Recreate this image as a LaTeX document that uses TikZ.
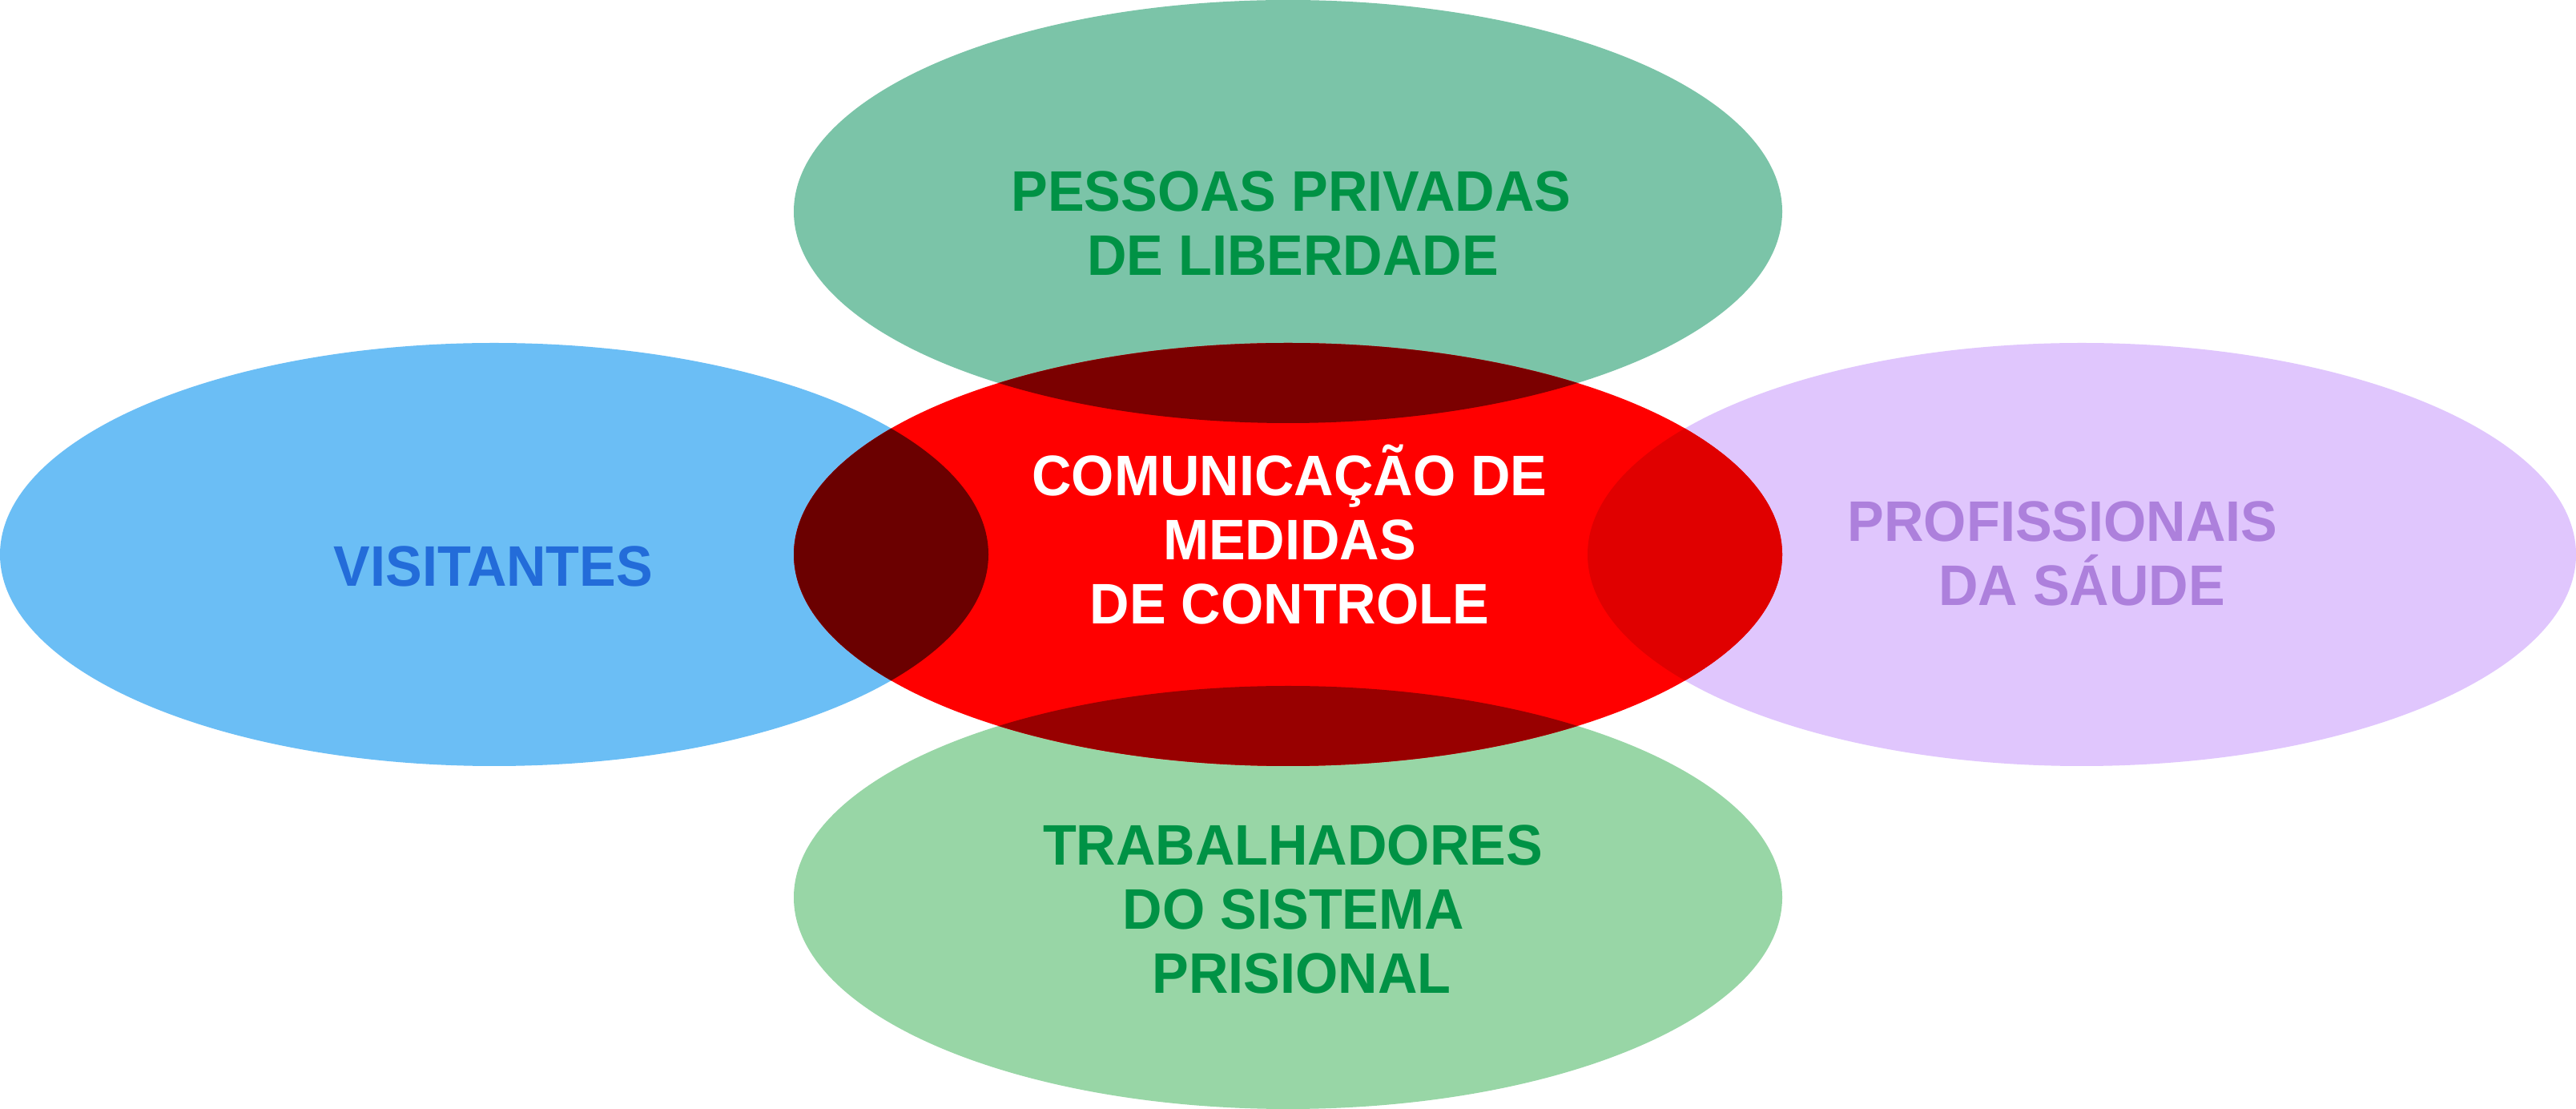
\documentclass[tikz,border=0pt]{standalone}
\usepackage{fontspec}
\setmainfont{Liberation Sans}[FakeStretch=0.96]
\definecolor{cTop}{HTML}{7BC4A8}
\definecolor{cLeft}{HTML}{6BBEF5}
\definecolor{cRight}{HTML}{E0C6FD}
\definecolor{cBot}{HTML}{98D6A6}
\definecolor{cMid}{HTML}{FF0000}
\definecolor{oTop}{HTML}{7B0000}
\definecolor{oLeft}{HTML}{6B0000}
\definecolor{oRight}{HTML}{E00000}
\definecolor{oBot}{HTML}{980000}
\definecolor{tGreen}{HTML}{009245}
\definecolor{tBlue}{HTML}{236CD9}
\definecolor{tLav}{HTML}{AD80DC}
\tikzset{
  lbl/.style={anchor=base, inner sep=0pt, font=\fontsize{20.3}{28}\selectfont\bfseries},
  ell/.style={x radius=6.17cm, y radius=2.64cm}
}
\begin{document}
\begin{tikzpicture}
\fill[white] (0,0) rectangle (32.16,-13.84);
\useasboundingbox (0,0) rectangle (32.16,-13.84);
% outer ellipses
\fill[cTop]   (16.08,-2.64)  ellipse [ell];
\fill[cLeft]  (6.17,-6.92)   ellipse [ell];
\fill[cRight] (25.99,-6.92)  ellipse [ell];
\fill[cBot]   (16.08,-11.20) ellipse [ell];
% centre ellipse
\fill[cMid]   (16.08,-6.92)  ellipse [ell];
% overlaps
\begin{scope}
  \clip (16.08,-6.92) ellipse [ell];
  \fill[oTop]   (16.08,-2.64)  ellipse [ell];
  \fill[oLeft]  (6.17,-6.92)   ellipse [ell];
  \fill[oRight] (25.99,-6.92)  ellipse [ell];
  \fill[oBot]   (16.08,-11.20) ellipse [ell];
\end{scope}
% labels
\node[lbl, text=tGreen] (t1) at (16.12,-2.64) {PESSOAS PRIVADAS};
\node[lbl, text=tGreen] (t2) at (16.14,-3.44) {DE LIBERDADE};
\node[lbl, text=white] (c1) at (16.10,-6.19) {COMUNICAÇÃO DE};
\node[lbl, text=white] (c2) at (16.10,-6.99) {MEDIDAS};
\node[lbl, text=white] (c3) at (16.10,-7.79) {DE CONTROLE};
\node[lbl, text=tBlue] (l1) at (6.16,-7.32) {VISITANTES};
\node[lbl, text=tLav] (r1) at (25.75,-6.76) {PROFISSIONAIS};
\node[lbl, text=tLav] (r2) at (25.99,-7.56) {DA SÁUDE};
\node[lbl, text=tGreen] (b1) at (16.14,-10.80) {TRABALHADORES};
\node[lbl, text=tGreen] (b2) at (16.15,-11.60) {DO SISTEMA};
\node[lbl, text=tGreen] (b3) at (16.25,-12.40) {PRISIONAL};
\end{tikzpicture}
\end{document}
